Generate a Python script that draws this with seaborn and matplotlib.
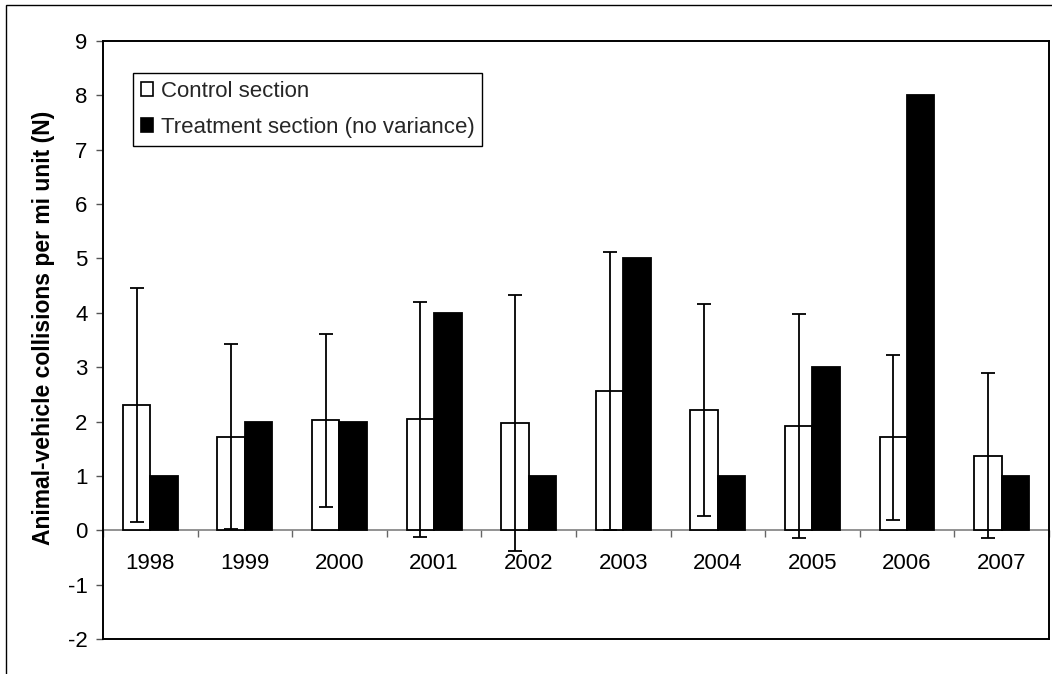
"""
Animal-vehicle collisions per mile unit, control vs treatment section.
"""

import numpy as np
import pandas as pd
import matplotlib
matplotlib.use('Agg')
import matplotlib.pyplot as plt
import seaborn as sns
from matplotlib.patches import Rectangle

# data
years = ['1998', '1999', '2000', '2001', '2002', '2003', '2004', '2005', '2006', '2007']
control_mean = [2.30, 1.72, 2.02, 2.04, 1.97, 2.56, 2.21, 1.92, 1.71, 1.37]
control_err = [2.15, 1.70, 1.59, 2.16, 2.35, 2.56, 1.95, 2.06, 1.52, 1.52]
treatment = [1, 2, 2, 4, 1, 5, 1, 3, 8, 1]
series_names = ['Control section', 'Treatment section (no variance)']
y_ticks = list(range(-2, 10))

sns.set_theme(style='white')
plt.rcParams['font.family'] = ['Liberation Sans', 'DejaVu Sans']
plt.rcParams['axes.unicode_minus'] = False

df = pd.DataFrame({
    'year': years * 2,
    'value': control_mean + treatment,
    'section': [series_names[0]] * len(years) + [series_names[1]] * len(years),
})

fig = plt.figure(figsize=(10.52, 6.74), dpi=100)
ax = fig.add_axes([0.0979, 0.0519, 0.8992, 0.8873])

sns.barplot(
    data=df, x='year', y='value', hue='section',
    palette=['white', 'black'], saturation=1,
    edgecolor='black', linewidth=1.3, width=0.58,
    errorbar=None, ax=ax,
)

# error bars on the control bars only
ctrl = sorted([p for p in ax.patches if p.get_facecolor()[0] > 0.5 and p.get_height() > 0],
              key=lambda p: p.get_x())
xs = [p.get_x() + p.get_width() / 2 for p in ctrl]
ax.errorbar(xs, control_mean, yerr=control_err, fmt='none', ecolor='black',
            elinewidth=1.3, capsize=4.7, capthick=1.3, zorder=5)

ax.set_xlim(-0.5, len(years) - 0.5)
ax.set_ylim(-2, 9)
ax.set_yticks(y_ticks)
ax.set_xticks([])
ax.set_xlabel('')
ax.set_ylabel('Animal-vehicle collisions per mi unit (N)', fontsize=16.5,
              fontweight='bold', color='black')
ax.yaxis.set_label_coords(-0.051, 0.52)
ax.tick_params(axis='y', left=True, length=5, width=1, color='#555555',
               pad=6, labelsize=16, labelcolor='black', direction='out')
for s in ax.spines.values():
    s.set_color('black')
    s.set_linewidth(1.4)

# category axis sitting on the zero line
sec = ax.secondary_xaxis(2 / 11)
sec.set_xticks(range(len(years)), labels=years)
sec.set_xticks(np.arange(-0.5, len(years)), minor=True)
sec.tick_params(which='major', length=0, pad=16, labelsize=16, labelcolor='black')
sec.tick_params(which='minor', length=5, width=1, color='#666666', direction='out')
sec.spines['bottom'].set_color('#808080')
sec.spines['bottom'].set_linewidth(1.2)

handles, labels = ax.get_legend_handles_labels()
leg = ax.legend(handles, labels, loc='upper left', bbox_to_anchor=(0.0317, 0.9465),
                borderaxespad=0, fontsize=16, frameon=True, fancybox=False,
                framealpha=1, edgecolor='black', handlelength=0.55, handleheight=0.55,
                handletextpad=0.35, borderpad=0.35, labelspacing=0.68)
leg.get_frame().set_linewidth(1.0)
for h in leg.legend_handles:
    h.set_edgecolor('black')
    h.set_linewidth(1.2)

# outer chart frame
fig.patches.append(Rectangle((6 / 1052, -0.1), 1.2, 1.1 - 5 / 674, transform=fig.transFigure,
                             fill=False, edgecolor='black', linewidth=1.0))

fig.savefig('out.png', dpi=100)
